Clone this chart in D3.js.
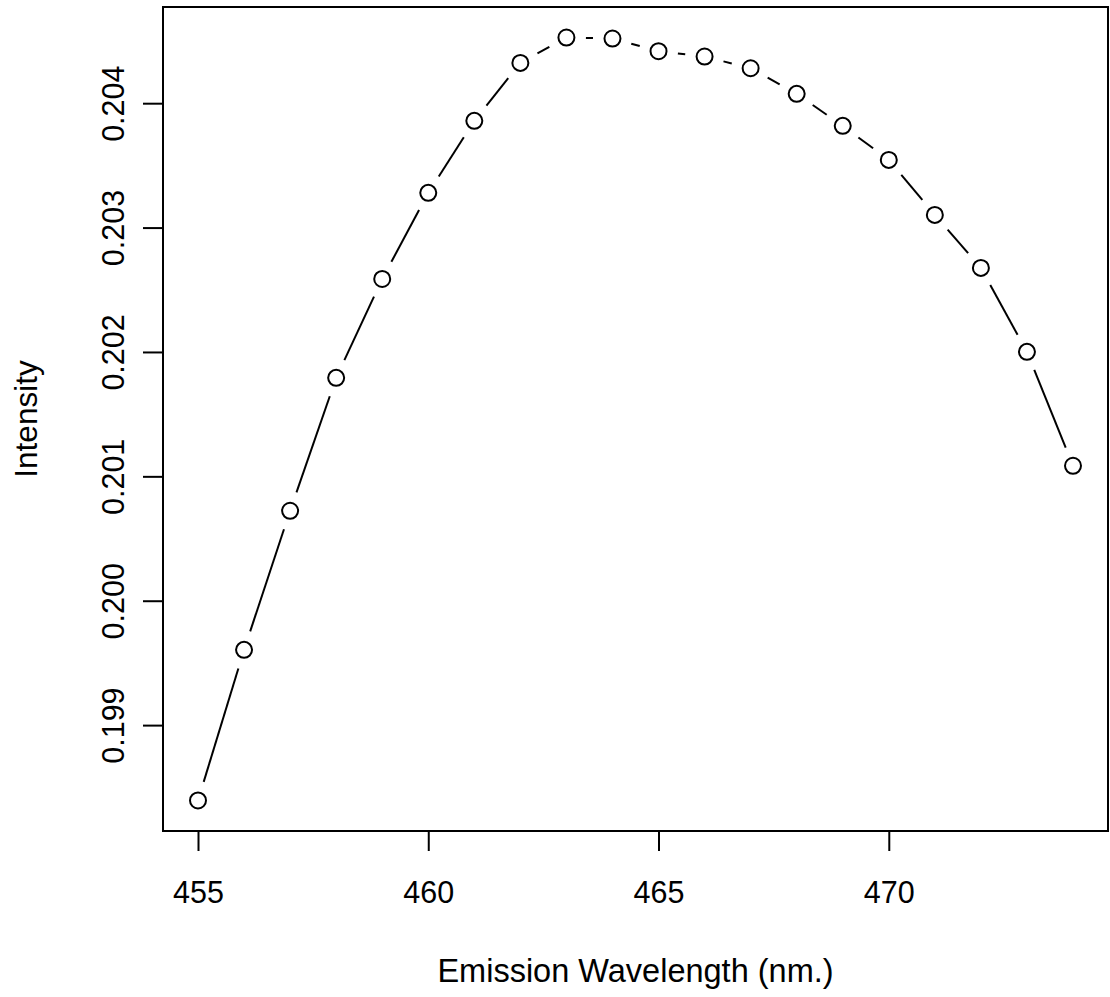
<!DOCTYPE html>
<html>
<head>
<meta charset="utf-8">
<script src="https://cdn.jsdelivr.net/npm/d3@7"></script>
<style>
  body { margin: 0; background: #fff; }
  text { font-family: "Liberation Sans", Arial, sans-serif; fill: #000; }
</style>
</head>
<body>
<div id="chart"></div>
<script>
// emission wavelength (nm) and measured intensity
var wavelength = [455, 456, 457, 458, 459, 460, 461, 462, 463, 464,
                  465, 466, 467, 468, 469, 470, 471, 472, 473, 474];
var intensity = [0.198394, 0.199605, 0.200723, 0.201792, 0.202587, 0.203279,
                 0.203858, 0.204324, 0.204528, 0.204520, 0.204418, 0.204375,
                 0.204281, 0.204075, 0.203818, 0.203544, 0.203102, 0.202676,
                 0.202001, 0.201085];
var xTicks = [455, 460, 465, 470];
var yTicks = [0.199, 0.200, 0.201, 0.202, 0.203, 0.204];

var width = 1110, height = 997;
var box = {left: 163, right: 1108, top: 7, bottom: 831};

var data = wavelength.map(function(w, i) { return {x: w, y: intensity[i]}; });

// R style 4% axis extension
function extend(ext) {
  var d = (ext[1] - ext[0]) * 0.04;
  return [ext[0] - d, ext[1] + d];
}

var x = d3.scaleLinear()
  .domain(extend(d3.extent(wavelength)))
  .range([box.left, box.right]);
var y = d3.scaleLinear()
  .domain(extend(d3.extent(intensity)))
  .range([box.bottom, box.top]);

var svg = d3.select("#chart")
  .append("svg")
    .attr("width", width)
    .attr("height", height);

// plot frame
svg.append("rect")
  .attr("x", box.left)
  .attr("y", box.top)
  .attr("width", box.right - box.left)
  .attr("height", box.bottom - box.top)
  .attr("fill", "none")
  .attr("stroke", "#000")
  .attr("stroke-width", 2);

// x axis
var xAxis = d3.axisBottom(x)
  .tickValues(xTicks)
  .tickSize(20)
  .tickPadding(0)
  .tickFormat(d3.format("d"));
var gx = svg.append("g")
  .attr("transform", "translate(0," + box.bottom + ")")
  .call(xAxis);
gx.select(".domain")
  .attr("d", "M" + x(xTicks[0]) + ",0H" + x(xTicks[xTicks.length - 1]))
  .attr("stroke-width", 2);
gx.selectAll(".tick line").attr("stroke-width", 2);
gx.selectAll(".tick text")
  .attr("y", 72)
  .attr("dy", null)
  .style("font-size", "30.5px")
  .style("font-family", "'Liberation Sans', Arial, sans-serif");

// y axis
var yAxis = d3.axisLeft(y)
  .tickValues(yTicks)
  .tickSize(20)
  .tickFormat(d3.format(".3f"));
var gy = svg.append("g")
  .attr("transform", "translate(" + box.left + ",0)")
  .call(yAxis);
gy.select(".domain")
  .attr("d", "M0," + y(yTicks[0]) + "V" + y(yTicks[yTicks.length - 1]))
  .attr("stroke-width", 2);
gy.selectAll(".tick line").attr("stroke-width", 2);
gy.selectAll(".tick text")
  .attr("x", null)
  .attr("dy", null)
  .attr("text-anchor", "middle")
  .attr("transform", "translate(-39,0) rotate(-90)")
  .style("font-size", "30.5px")
  .style("font-family", "'Liberation Sans', Arial, sans-serif");

// axis titles
svg.append("text")
  .attr("x", (box.left + box.right) / 2)
  .attr("y", 982)
  .attr("text-anchor", "middle")
  .style("font-size", "32.5px")
  .text("Emission Wavelength (nm.)");

svg.append("text")
  .attr("transform", "translate(37," + (box.top + box.bottom) / 2 + ") rotate(-90)")
  .attr("text-anchor", "middle")
  .style("font-size", "31.5px")
  .text("Intensity");

// line segments with gaps around the points (type = "b")
var gap = 19.5;
var segs = d3.pairs(data).map(function(p) {
  var x0 = x(p[0].x), y0 = y(p[0].y), x1 = x(p[1].x), y1 = y(p[1].y);
  var len = Math.hypot(x1 - x0, y1 - y0);
  var ux = (x1 - x0) / len, uy = (y1 - y0) / len;
  return {x0: x0 + ux * gap, y0: y0 + uy * gap, x1: x1 - ux * gap, y1: y1 - uy * gap, ok: len > 2 * gap};
}).filter(function(s) { return s.ok; });

svg.append("g")
  .selectAll("line")
  .data(segs)
  .enter()
  .append("line")
    .attr("x1", function(d) { return d.x0; })
    .attr("y1", function(d) { return d.y0; })
    .attr("x2", function(d) { return d.x1; })
    .attr("y2", function(d) { return d.y1; })
    .attr("stroke", "#000")
    .attr("stroke-width", 2);

svg.append("g")
  .selectAll("circle")
  .data(data)
  .enter()
  .append("circle")
    .attr("cx", function(d) { return x(d.x); })
    .attr("cy", function(d) { return y(d.y); })
    .attr("r", 8)
    .attr("fill", "none")
    .attr("stroke", "#000")
    .attr("stroke-width", 2);
</script>
</body>
</html>
